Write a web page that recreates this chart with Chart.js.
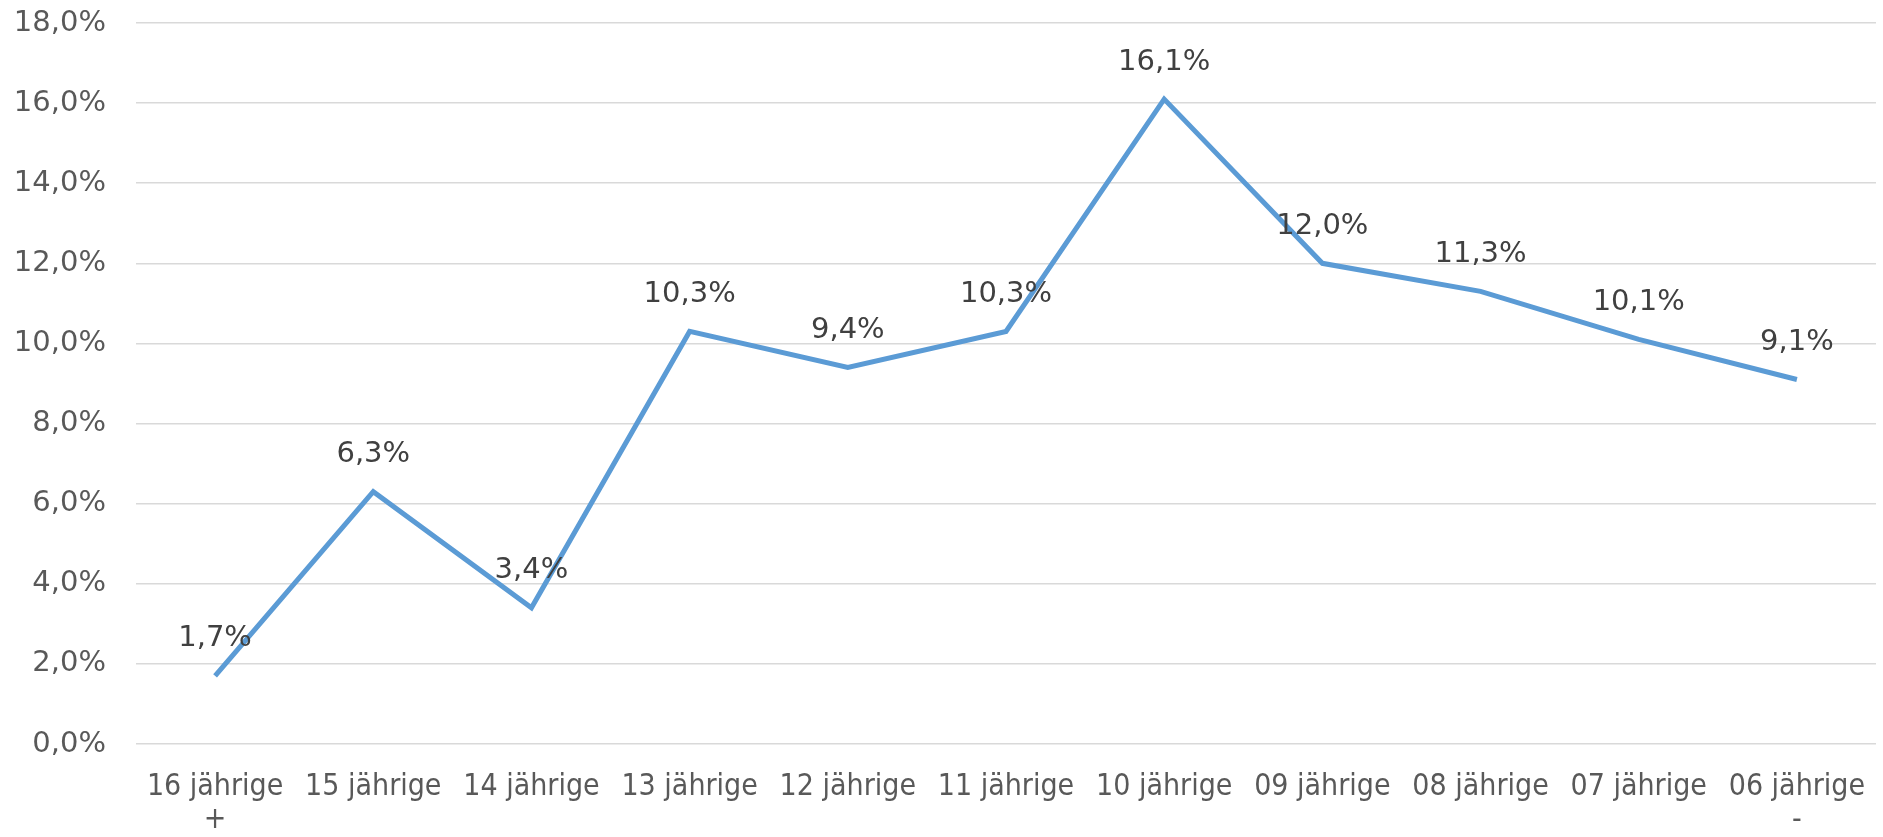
<!DOCTYPE html>
<html>
<head>
<meta charset="utf-8">
<script src="https://cdn.jsdelivr.net/npm/chart.js@4/dist/chart.umd.min.js"></script>
<style>
  html, body { margin: 0; padding: 0; background: #fff; }
  #wrap { width: 1883px; height: 837px; }
</style>
</head>
<body>
<div id="wrap"><canvas id="age-chart" width="1883" height="837"></canvas></div>
<script>
// categories (multi-line labels as Excel wraps them)
const categories = [
    ['16 jährige', '+'], '15 jährige', '14 jährige', '13 jährige', '12 jährige',
    '11 jährige', '10 jährige', '09 jährige', '08 jährige', '07 jährige', ['06 jährige', '-']
];
// share in percent
const shares = [1.7, 6.3, 3.4, 10.3, 9.4, 10.3, 16.1, 12.0, 11.3, 10.1, 9.1];
const yTicks = { min: 0, max: 18, step: 2 };

const fmtPct = v => v.toFixed(1).replace('.', ',') + '%';

// data labels above each point
const valueLabels = {
    id: 'valueLabels',
    afterDatasetsDraw(chart) {
        const ctx = chart.ctx;
        const meta = chart.getDatasetMeta(0);
        ctx.save();
        ctx.font = '29px "DejaVu Sans", Verdana, sans-serif';
        ctx.fillStyle = '#404040';
        ctx.textAlign = 'center';
        ctx.textBaseline = 'middle';
        meta.data.forEach((pt, i) => {
            ctx.fillText(fmtPct(shares[i]), pt.x, pt.y - 37);
        });
        ctx.restore();
    }
};

const ctx = document.getElementById('age-chart').getContext('2d');
new Chart(ctx, {
    type: 'line',
    data: {
        labels: categories,
        datasets: [{
            data: shares,
            borderColor: '#5B9BD5',
            borderWidth: 5,
            pointRadius: 0,
            pointHoverRadius: 0,
            fill: false,
            tension: 0
        }]
    },
    options: {
        responsive: false,
        animation: false,
        layout: { padding: { top: 0, right: 7, left: 0, bottom: 0 } },
        plugins: {
            legend: { display: false },
            tooltip: { enabled: false }
        },
        scales: {
            x: {
                offset: true,
                grid: { display: false, drawTicks: false },
                border: { display: false },
                ticks: {
                    color: '#595959',
                    font: { family: '"DejaVu Sans Condensed", "Liberation Sans Narrow", sans-serif', size: 30, lineHeight: 1.1 },
                    padding: 27,
                    maxRotation: 0,
                    autoSkip: false
                },
                afterFit: scale => {
                    scale.height = 93;
                    scale.paddingLeft = 0;
                    scale.paddingRight = 0;
                }
            },
            y: {
                min: yTicks.min,
                max: yTicks.max,
                grid: { color: '#D9D9D9', lineWidth: 1.5, drawTicks: false },
                border: { display: false },
                ticks: {
                    stepSize: yTicks.step,
                    color: '#595959',
                    font: { family: '"DejaVu Sans", Verdana, sans-serif', size: 29 },
                    padding: 30,
                    callback: v => fmtPct(v)
                },
                afterFit: scale => {
                    scale.width = 136;
                    // tick padding would otherwise push the plot down
                    scale.paddingTop = 23;
                    scale.paddingBottom = 0;
                }
            }
        }
    },
    plugins: [valueLabels]
});
</script>
</body>
</html>
